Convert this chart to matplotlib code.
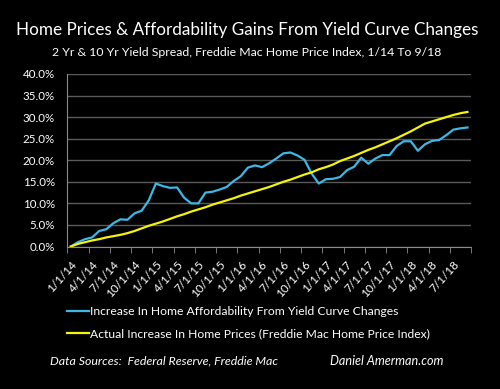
import matplotlib
matplotlib.use('Agg')
import matplotlib.pyplot as plt
import numpy as np

# monthly points 1/14 .. 9/18, percent increase since 1/14
affordability = [0.0, 1.0, 1.7, 2.1, 3.6, 4.0, 5.4, 6.3, 6.2, 7.7,
                 8.3, 10.7, 14.6, 14.0, 13.6, 13.7, 11.3, 10.0, 10.0, 12.5,
                 12.7, 13.2, 13.8, 15.2, 16.3, 18.3, 18.8, 18.4, 19.3, 20.4,
                 21.6, 21.8, 21.1, 20.1, 16.9, 14.6, 15.6, 15.7, 16.1, 17.7,
                 18.5, 20.6, 19.2, 20.4, 21.2, 21.2, 23.3, 24.4, 24.4, 22.2,
                 23.7, 24.5, 24.7, 25.8, 27.1, 27.4, 27.6]
home_prices = [0.0, 0.6, 1.0, 1.4, 1.7, 2.1, 2.4, 2.7, 3.1, 3.6,
               4.2, 4.8, 5.3, 5.8, 6.4, 7.0, 7.5, 8.1, 8.6, 9.1,
               9.7, 10.2, 10.7, 11.2, 11.8, 12.3, 12.8, 13.3, 13.8, 14.4,
               15.0, 15.5, 16.1, 16.7, 17.2, 17.9, 18.4, 19.0, 19.8, 20.4,
               21.0, 21.7, 22.4, 23.0, 23.7, 24.4, 25.1, 25.9, 26.7, 27.6,
               28.5, 29.0, 29.5, 30.0, 30.5, 30.9, 31.2]
tick_labels = ['1/1/14', '4/1/14', '7/1/14', '10/1/14',
               '1/1/15', '4/1/15', '7/1/15', '10/1/15',
               '1/1/16', '4/1/16', '7/1/16', '10/1/16',
               '1/1/17', '4/1/17', '7/1/17', '10/1/17',
               '1/1/18', '4/1/18', '7/1/18']
y_ticks = [0, 5, 10, 15, 20, 25, 30, 35, 40]

plt.rcParams['font.family'] = ['Lato', 'DejaVu Sans']

fig = plt.figure(figsize=(5, 3.89), dpi=100, facecolor='black')
W, H = 500, 389
ax = fig.add_axes([67.3 / W, 1 - 246.5 / H, (471 - 67.3) / W, (246.5 - 74) / H])
ax.set_facecolor('black')

x = np.arange(len(affordability))
ax.plot(x, affordability, color='#3bb8e6', lw=1.6, solid_joinstyle='round',
        label='Increase In Home Affordability From Yield Curve Changes')
ax.plot(x, home_prices, color='#f5f500', lw=1.6, solid_joinstyle='round',
        label='Actual Increase In Home Prices (Freddie Mac Home Price Index)')

ax.set_xlim(-0.5, len(x) - 0.5)
ax.set_ylim(0, 40)
ax.set_yticks(y_ticks)
ax.set_yticklabels(['%.1f%%' % v for v in y_ticks], color='white', fontsize=8.3)
ax.grid(axis='y', color='#5a5a5a', lw=1)
ax.set_axisbelow(True)

ax.set_xticks(np.arange(0, len(x), 3))
ax.set_xticklabels(tick_labels, rotation=48, ha='right', va='top',
                   rotation_mode='anchor', color='white', fontsize=8.5)
ax.set_xticks(np.arange(-0.5, len(x), 3), minor=True)
ax.tick_params(axis='x', which='major', length=0, pad=9)
ax.tick_params(axis='x', which='minor', length=4, color='#8a8a8a')
ax.tick_params(axis='y', length=0, pad=9)

for side in ['top', 'right']:
    ax.spines[side].set_visible(False)
ax.spines['left'].set_color('#8a8a8a')
ax.spines['bottom'].set_color('#8a8a8a')

fig.text(0.494, 1 - 30 / H, 'Home Prices & Affordability Gains From Yield Curve Changes',
         ha='center', va='center', color='white', fontsize=12.3)
fig.text(0.494, 1 - 53 / H, '2 Yr & 10 Yr Yield Spread, Freddie Mac Home Price Index, 1/14 To 9/18',
         ha='center', va='center', color='white', fontsize=8.8)

leg = fig.legend(loc='upper left', bbox_to_anchor=(62 / W, 1 - 301 / H), frameon=False,
                 fontsize=8.7, labelcolor='white', handlelength=1.8, handletextpad=0.1,
                 labelspacing=0.95, borderaxespad=0)

fig.text(50 / W, 1 - 361 / H, 'Data Sources:  Federal Reserve, Freddie Mac',
         ha='left', va='center', color='white', fontsize=8.9, style='italic')
fig.text(330 / W, 1 - 361 / H, 'Daniel Amerman.com',
         ha='left', va='center', color='white', fontsize=9.1, style='italic')

fig.savefig('out.png', dpi=100, facecolor='black')
